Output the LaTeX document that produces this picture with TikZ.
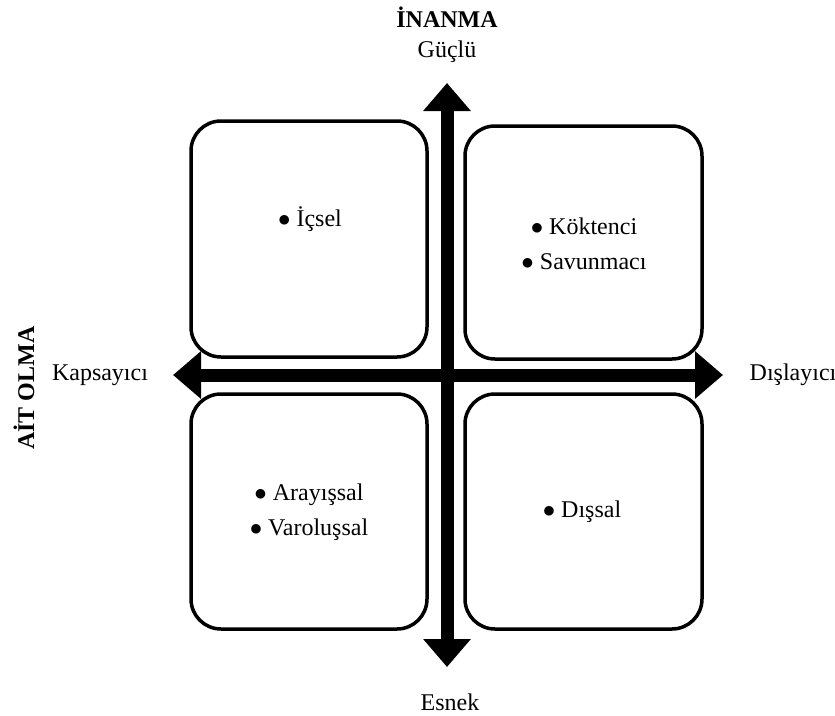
\documentclass[tikz,border=0pt]{standalone}
\usepackage{fontspec}
\setmainfont{Liberation Serif}
\usetikzlibrary{arrows.meta}

\tikzset{
  quad/.style={line width=3.5pt, rounded corners=30pt},
  axis/.style={line width=13pt, {Triangle[width=46pt,length=28pt]}-{Triangle[width=46pt,length=28pt]}},
  heading/.style={font=\fontsize{24}{29}\selectfont\bfseries},
}
\newcommand{\dotitem}{$\bullet$ }

\begin{document}
\begin{tikzpicture}[x=1pt, y=-1pt, font=\fontsize{24}{35}\selectfont]
      \useasboundingbox (0,0) rectangle (835,715);

      \draw[quad] (191,121) rectangle (427,357);
      \draw[quad] (465,126) rectangle (702,359);
      \draw[quad] (191,394) rectangle (427,629);
      \draw[quad] (465,394) rectangle (702,629);

      \coordinate (up) at (447,83);
      \coordinate (down) at (447,667);
      \coordinate (left) at (173,375);
      \coordinate (right) at (723,375);

      \draw[axis] (down) -- (up);
      \draw[axis] (left) -- (right);

      \node[heading] (belief) at (447,17) {İNANMA};
      \node (strong) at (447,52) {Güçlü};
      \node (flexible) at (450,702) {Esnek};
      \node (inclusive) at (100,375) {Kapsayıcı};
      \node (exclusive) at (793,375) {Dışlayıcı};
      \node[heading, rotate=90] (belonging) at (24,388) {AİT OLMA};

      \node (inner) at (310,219) {\dotitem İçsel};
      \node[align=center] (rigid) at (584,244) {\dotitem Köktenci\\\dotitem Savunmacı};
      \node[align=center] (seeking) at (309,512) {\dotitem Arayışsal\\\dotitem Varoluşsal};
      \node (outer) at (582,512) {\dotitem Dışsal};
    \end{tikzpicture}
\end{document}
